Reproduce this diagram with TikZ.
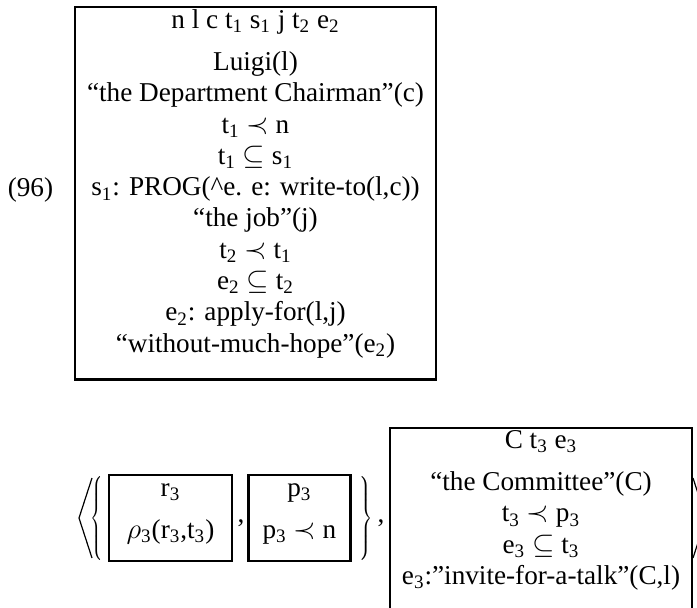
\documentclass[tikz,border=0pt]{standalone}
\usepackage{fontspec}
\setmainfont{Liberation Serif}
\usetikzlibrary{positioning}
\newcommand{\ix}[1]{\textsubscript{#1}}
\newcommand{\drsend}[1]{\rule[-#1]{0pt}{#1}}
\newcommand{\drstop}{\rule{0pt}{9.3pt}}

\begin{document}
\begin{tikzpicture}[
  x=0.5pt, y=-0.5pt,
  drsbox/.style={rectangle, draw, line width=1.2pt, align=center, inner xsep=0pt, inner ysep=1.2pt, font=\fontsize{13.6}{15.65}\selectfont},
  txt/.style={inner sep=0pt, font=\fontsize{13.6}{15.65}\selectfont},
  delim/.style={line width=0.6pt}
]
\useasboundingbox (0,0) rectangle (697,607);

% discourse (96)
\node[txt, anchor=base] (exnum) at (30.5,196) {(96)};
\node[drsbox, minimum width=180.5pt, anchor=north] (mainbox) at (255.5,6) {n l c t\ix{1} s\ix{1} j t\ix{2} e\ix{2}\\[5.35pt]
  Luigi(l)\\
  ``the Department Chairman''(c)\\
  t\ix{1} $\prec$ n\\
  t\ix{1} $\subseteq$ s\ix{1}\\
  s\ix{1}: PROG(\textasciicircum e. e: write-to(l,c))\\
  ``the job''(j)\\
  t\ix{2} $\prec$ t\ix{1}\\
  e\ix{2} $\subseteq$ t\ix{2}\\
  e\ix{2}: apply-for(l,j)\\
  ``without-much-hope''(e\ix{2})\drsend{12.45pt}};

% triple below
\node[drsbox, minimum width=61.5pt, anchor=north] (rbox) at (170.5,474) {\drstop r\ix{3}\\[5.35pt]
  $\rho$\ix{3}(r\ix{3},t\ix{3})\drsend{10.3pt}};
\node[drsbox, minimum width=51pt, right=7pt of rbox] (pbox) {\drstop p\ix{3}\\[5.35pt]
  p\ix{3} $\prec$ n\drsend{10.3pt}};
\node[drsbox, minimum width=151pt, anchor=north] (cbox) at (541,427) {C t\ix{3} e\ix{3}\\[5.35pt]
  ``the Committee''(C)\\
  t\ix{3} $\prec$ p\ix{3}\\
  e\ix{3} $\subseteq$ t\ix{3}\\
  e\ix{3}:''invite-for-a-talk''(C,l)\drsend{12.45pt}};

\node[txt] (lbrace) at (98,518) {\scalebox{0.7}[1]{$\left\{\vcenter{\hbox{\rule{0pt}{43pt}}}\right.$}};
\node[txt] (rbrace) at (365,518) {\scalebox{0.75}[1]{$\left.\vcenter{\hbox{\rule{0pt}{43pt}}}\right\}$}};
\node[txt, anchor=base] (comma1) at (241,522) {,};
\node[txt, anchor=base] (comma2) at (381,522) {,};

\draw[delim] (92,478) -- (79,518) -- (92,558);
\draw[delim] (693,478) -- (706,518) -- (693,558);
\end{tikzpicture}
\end{document}
